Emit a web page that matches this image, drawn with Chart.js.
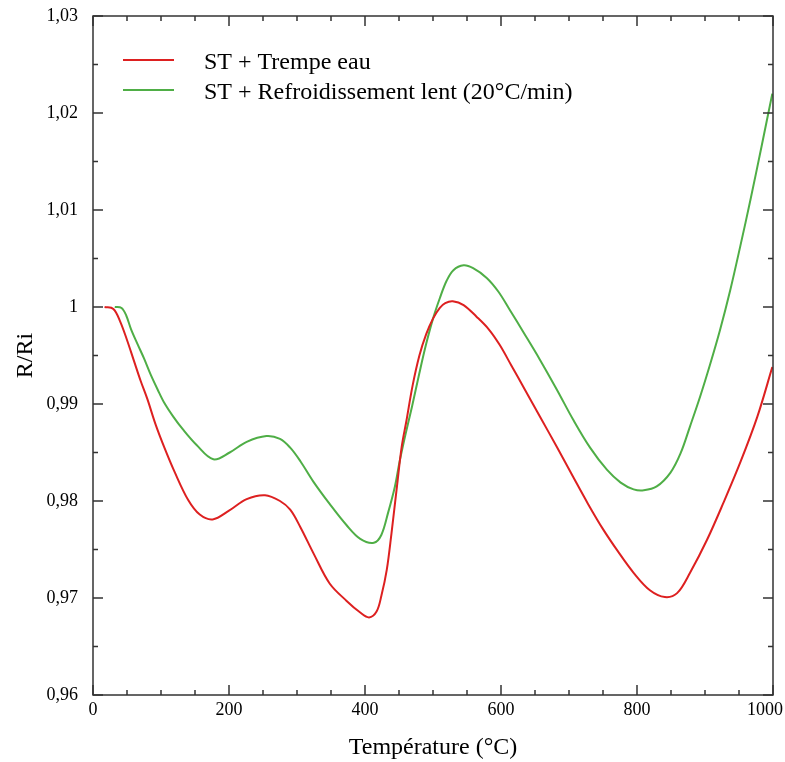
<!DOCTYPE html>
<html>
<head>
<meta charset="utf-8">
<script src="https://cdn.jsdelivr.net/npm/chart.js@4.4.1/dist/chart.umd.min.js"></script>
<style>
  html, body { margin: 0; padding: 0; background: #fff; }
  canvas { display: block; }
</style>
</head>
<body>
<canvas id="graphe" width="785" height="762"></canvas>
<script>
// Courbe ST + Trempe eau
const tempTrempe = [17, 30, 40, 50, 60, 70, 80, 92, 105, 120, 140, 157, 176, 200, 226, 253, 275, 290,
    305, 325, 348, 373, 393, 406, 417, 424, 432, 439, 447, 454, 461, 470, 480, 490, 500, 510, 518,
    529, 545, 564, 582, 598, 615, 635, 658, 682, 706, 728, 750, 772, 795, 819, 841, 859, 878, 903,
    927, 952, 977, 999];
const rTrempe = [1.0, 0.9998, 0.9985, 0.9966, 0.9945, 0.9924, 0.9905, 0.9879, 0.9855, 0.983, 0.9801,
    0.9786, 0.9781, 0.979, 0.9802, 0.9806, 0.98, 0.9791, 0.9773, 0.9745, 0.9715, 0.9697, 0.9685,
    0.968, 0.9686, 0.9702, 0.9729, 0.9767, 0.9815, 0.9856, 0.9883, 0.9919, 0.995, 0.9972, 0.9988,
    0.9999, 1.0004, 1.0006, 1.0002, 0.999, 0.9977, 0.9961, 0.994, 0.9915, 0.9886, 0.9856, 0.9825,
    0.9797, 0.9771, 0.9748, 0.9726, 0.9708, 0.9701, 0.9705, 0.9726, 0.976, 0.9798, 0.984, 0.9887,
    0.9938];

// Courbe ST + Refroidissement lent
const tempLent = [32, 42, 49, 56, 66, 75, 85, 95, 105, 118, 132, 152, 177, 201, 226, 255, 275, 290,
    305, 324, 348, 373, 393, 413, 424, 434, 444, 451, 460, 469, 480, 490, 500, 510, 520, 530, 545,
    559, 579, 596, 613, 633, 657, 682, 706, 731, 756, 776, 795, 810, 829, 849, 864, 878, 893, 908,
    922, 937, 952, 967, 983, 999];
const rLent = [1.0, 0.9999, 0.9991, 0.9977, 0.9961, 0.9947, 0.993, 0.9915, 0.9901, 0.9887, 0.9874,
    0.9858, 0.9843, 0.985, 0.9861, 0.9867, 0.9864, 0.9855, 0.9841, 0.982, 0.9797, 0.9775, 0.9761,
    0.9757, 0.9765, 0.9788, 0.9815, 0.9841, 0.987, 0.9897, 0.9932, 0.9962, 0.9988, 1.0009, 1.0027,
    1.0038, 1.0043, 1.004, 1.003, 1.0016, 0.9997, 0.9974, 0.9946, 0.9915, 0.9884, 0.9855, 0.9832,
    0.9819, 0.9812, 0.9811, 0.9815, 0.9829, 0.9849, 0.9877, 0.9908, 0.9942, 0.9976, 1.0017, 1.0063,
    1.0111, 1.0165, 1.022];

const xTicks = [0, 200, 400, 600, 800, 1000];
const xTickLabels = ['0', '200', '400', '600', '800', '1000'];
const yTicks = [0.96, 0.97, 0.98, 0.99, 1.0, 1.01, 1.02, 1.03];
const yTickLabels = ['0,96', '0,97', '0,98', '0,99', '1', '1,01', '1,02', '1,03'];
const nomsSeries = ['ST + Trempe eau', 'ST + Refroidissement lent (20°C/min)'];

const rouge = '#dd2020';
const vert = '#4fae46';
const police = '"Liberation Serif", "Times New Roman", serif';

// cadre, graduations internes et legende
const cadre = {
    id: 'cadre',
    afterDraw(chart) {
        const ctx = chart.ctx;
        const a = chart.chartArea;
        const sx = chart.scales.x;
        const sy = chart.scales.y;
        ctx.save();
        ctx.strokeStyle = '#333';
        ctx.lineWidth = 1.5;
        ctx.strokeRect(a.left, a.top, a.right - a.left, a.bottom - a.top);

        ctx.beginPath();
        for (let v = sx.min; v <= sx.max; v += 50) {
            const px = sx.getPixelForValue(v);
            const len = v % 200 === 0 ? 10 : 5;
            ctx.moveTo(px, a.bottom);
            ctx.lineTo(px, a.bottom - len);
            ctx.moveTo(px, a.top);
            ctx.lineTo(px, a.top + len);
        }
        for (let i = 0; i <= 14; i++) {
            const py = sy.getPixelForValue(sy.min + i * 0.005);
            const len = i % 2 === 0 ? 10 : 5;
            ctx.moveTo(a.left, py);
            ctx.lineTo(a.left + len, py);
            ctx.moveTo(a.right, py);
            ctx.lineTo(a.right - len, py);
        }
        ctx.stroke();

        // etiquettes de l'axe x
        ctx.fillStyle = '#000';
        ctx.font = '18px ' + police;
        ctx.textAlign = 'center';
        ctx.textBaseline = 'top';
        xTicks.forEach((v, i) => {
            const w = ctx.measureText(xTickLabels[i]).width;
            const px = Math.min(sx.getPixelForValue(v), chart.width - 2 - w / 2);
            ctx.fillText(xTickLabels[i], px, a.bottom + 6);
        });

        // legende
        ctx.font = '24px ' + police;
        ctx.textAlign = 'left';
        ctx.textBaseline = 'alphabetic';
        ctx.lineWidth = 2;
        [rouge, vert].forEach((c, i) => {
            const y = 60 + i * 30;
            ctx.strokeStyle = c;
            ctx.beginPath();
            ctx.moveTo(123, y);
            ctx.lineTo(174, y);
            ctx.stroke();
            ctx.fillText(nomsSeries[i], 204, y + 9);
        });
        ctx.restore();
    }
};

new Chart(document.getElementById('graphe'), {
    type: 'line',
    data: {
        datasets: [{
            label: nomsSeries[0],
            data: tempTrempe.map((t, i) => ({ x: t, y: rTrempe[i] })),
            borderColor: rouge,
            borderWidth: 2,
            pointRadius: 0,
            fill: false,
            tension: 0.35
        }, {
            label: nomsSeries[1],
            data: tempLent.map((t, i) => ({ x: t, y: rLent[i] })),
            borderColor: vert,
            borderWidth: 2,
            pointRadius: 0,
            fill: false,
            tension: 0.35
        }]
    },
    options: {
        responsive: false,
        animation: false,
        layout: { padding: { top: 16, right: 12, bottom: 0, left: 0 } },
        plugins: { legend: { display: false }, tooltip: { enabled: false } },
        scales: {
            x: {
                type: 'linear',
                min: 0,
                max: 1000,
                grid: { display: false },
                border: { display: false },
                ticks: { display: false },
                title: {
                    display: true,
                    text: 'Température (°C)',
                    color: '#000',
                    font: { family: police, size: 24 },
                    padding: { top: 0, bottom: 0 }
                },
                afterFit(scale) {
                    scale.height = 67;
                    scale.paddingLeft = 0;
                    scale.paddingRight = 0;
                }
            },
            y: {
                type: 'linear',
                min: 0.96,
                max: 1.03,
                grid: { display: false },
                border: { display: false },
                afterBuildTicks(scale) {
                    scale.ticks = yTicks.map(v => ({ value: v }));
                },
                ticks: {
                    color: '#000',
                    font: { family: police, size: 18 },
                    padding: 7,
                    callback: (value, index) => yTickLabels[index]
                },
                title: {
                    display: true,
                    text: 'R/Ri',
                    color: '#000',
                    font: { family: police, size: 24 },
                    padding: { top: 11, bottom: 0 }
                },
                afterFit(scale) {
                    scale.width = 93;
                    scale.paddingTop = 0;
                    scale.paddingBottom = 0;
                }
            }
        }
    },
    plugins: [cadre]
});
</script>
</body>
</html>
